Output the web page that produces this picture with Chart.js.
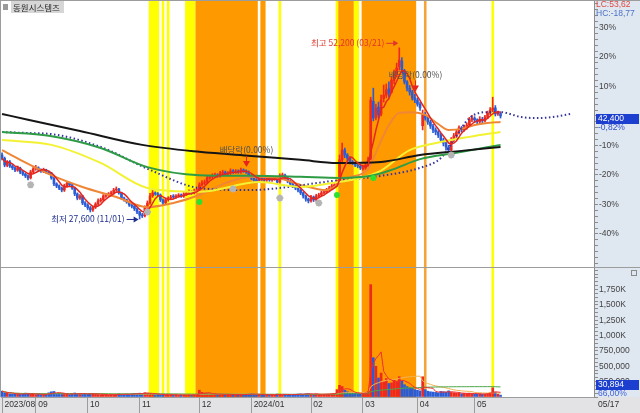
<!DOCTYPE html>
<html>
<head>
<meta charset="utf-8">
<script src="https://cdn.jsdelivr.net/npm/chart.js@4.4.1/dist/chart.umd.min.js"></script>
<style>
  html, body { margin: 0; padding: 0; background: #fff; }
  #wrap { position: relative; width: 640px; height: 413px; }
</style>
</head>
<body>
<div id="wrap"><canvas id="c" width="640" height="413"></canvas></div>
<script>
// daily candles, 2023/08 .. 2024/05/17 (index = trading day)
var opens = [
  36800, 36300, 35300, 35800, 35200, 34950, 34600, 34900, 34350, 34050,
  33800, 33500, 34350, 34800, 34950, 34650, 34450, 34650, 34350, 34200,
  33500, 32650, 32350, 32050, 31750, 32350, 32750, 32500, 32050, 31200,
  30600, 30900, 29900, 29600, 29200, 28900, 29300, 29750, 30200, 30350,
  30900, 31050, 31200, 31350, 31750, 31900, 31350, 30600, 30350, 30050,
  29600, 29450, 29050, 28600, 28150, 28050, 29200, 29900, 30900, 31350,
  31200, 31050, 30350, 29900, 30350, 30600, 30900, 30750, 30900, 31050,
  30900, 31200, 31350, 31500, 31350, 31600, 31750, 32500, 32750, 32900,
  33500, 33650, 33800, 33900, 33800, 34200, 34350, 34050, 34200, 34500,
  34350, 34500, 34350, 34650, 34500, 34350, 33800, 33500, 33200, 33050,
  33500, 33350, 33200, 33500, 33200, 33350, 33500, 32900, 33800, 33900,
  33500, 33050, 32650, 32350, 32050, 31750, 31350, 30900, 30450, 30200,
  30750, 30350, 30900, 31050, 31350, 31500, 31750, 32050, 32350, 32500,
  32900, 36100, 37500, 36800, 36350, 35800, 35650, 35350, 35200, 34800,
  34950, 35350, 36300, 44500, 42200, 43700, 42700, 44900, 45400, 46300,
  45800, 47500, 48500, 49500, 50300, 48900, 47300, 46400, 45850, 45000,
  44700, 44100, 41000, 42550, 42100, 41550, 40950, 40400, 40100, 39650,
  38950, 38500, 37950, 37500, 38950, 39550, 40100, 40700, 40400, 40800,
  41100, 41850, 42100, 41850, 41550, 41950, 41700, 42250, 42850, 43250,
  43550, 42700, 42750
];
var highs = [
  37100, 36500, 36000, 36000, 35400, 35100, 35200, 35050, 34550, 34200,
  33950, 34600, 35000, 35300, 35100, 34800, 34900, 34750, 34500, 34300,
  33650, 32800, 32500, 32200, 32600, 33000, 32900, 32650, 32150, 31350,
  31100, 31000, 30100, 29800, 29400, 29500, 29950, 30500, 30600, 31100,
  31300, 31400, 31600, 32000, 32200, 32000, 31450, 30750, 30450, 30200,
  29750, 29550, 29200, 28700, 28400, 29500, 30200, 31300, 31700, 31500,
  31400, 31200, 30500, 30600, 30800, 31000, 31100, 31100, 31250, 31200,
  31400, 31550, 31800, 31650, 31900, 32000, 32800, 33100, 33200, 33800,
  33900, 34100, 34200, 34100, 34450, 34600, 34500, 34400, 34800, 34700,
  34700, 34650, 34900, 34800, 34650, 34500, 33950, 33650, 33400, 33700,
  33650, 33500, 33700, 33650, 33550, 33700, 33600, 34100, 34200, 34050,
  33600, 33200, 32800, 32500, 32200, 31900, 31500, 31050, 30600, 31000,
  30900, 31150, 31300, 31600, 31750, 32000, 32300, 32600, 32750, 33200,
  36800, 38500, 37800, 37000, 36500, 36000, 35800, 35500, 35400, 35300,
  35700, 36500, 45100, 46400, 44100, 44400, 45400, 46850, 47000, 47300,
  48000, 49000, 50000, 52200, 50800, 49100, 47500, 46800, 46100, 45500,
  45000, 44400, 43250, 42900, 42400, 41800, 41200, 40700, 40300, 39900,
  39200, 38800, 38200, 39300, 39900, 40400, 41000, 40900, 41100, 41400,
  42200, 42500, 42300, 42000, 42300, 42200, 42500, 43100, 43600, 45100,
  43900, 43100, 43000
];
var lows = [
  36100, 35100, 35100, 35000, 34700, 34400, 34450, 34100, 33850, 33550,
  33200, 33350, 34150, 34600, 34400, 34300, 34250, 34150, 34000, 33300,
  32400, 32100, 31800, 31500, 31550, 32150, 32300, 31850, 30950, 30350,
  30400, 29650, 29350, 28950, 28600, 28700, 29100, 29550, 30000, 30150,
  30700, 30850, 31000, 31150, 31550, 31150, 30400, 30150, 29850, 29400,
  29200, 28800, 28350, 27600, 27800, 27900, 29000, 29700, 30700, 31000,
  30850, 30100, 29650, 29700, 30150, 30400, 30550, 30550, 30700, 30700,
  30700, 31000, 31150, 31150, 31200, 31400, 31600, 32300, 32550, 32700,
  33300, 33450, 33600, 33600, 33600, 34000, 33850, 33850, 34000, 34150,
  34150, 34150, 34150, 34300, 34150, 33550, 33250, 32950, 32800, 32850,
  33150, 33000, 33000, 33000, 33000, 33150, 32650, 32700, 33600, 33300,
  32800, 32400, 32100, 31800, 31500, 31100, 30600, 30150, 29900, 30000,
  30100, 30150, 30700, 30850, 31150, 31300, 31550, 31850, 32150, 32300,
  32700, 35800, 36400, 36000, 35500, 35400, 35100, 34950, 34700, 34600,
  34750, 35100, 36100, 41700, 41850, 42100, 42400, 44400, 45000, 45100,
  45700, 47000, 48000, 49000, 48600, 47000, 46000, 45400, 44700, 44300,
  43800, 43200, 40400, 41800, 41200, 40600, 40000, 39700, 39300, 38600,
  38100, 37500, 37100, 37300, 38700, 39300, 39800, 40100, 40200, 40500,
  40900, 41600, 41500, 41200, 41300, 41400, 41500, 42000, 42600, 43000,
  42400, 42500, 42100
];
var closes = [
  36350, 35350, 35800, 35200, 34950, 34650, 34950, 34350, 34050, 33800,
  33500, 34350, 34800, 34950, 34650, 34500, 34650, 34350, 34200, 33500,
  32650, 32350, 32050, 31750, 32350, 32750, 32500, 32050, 31200, 30600,
  30900, 29900, 29600, 29200, 28900, 29300, 29750, 30200, 30350, 30900,
  31050, 31200, 31350, 31750, 31900, 31350, 30600, 30350, 30050, 29600,
  29450, 29050, 28600, 28150, 28050, 29200, 29900, 30900, 31350, 31200,
  31050, 30350, 29900, 30350, 30600, 30750, 30750, 30900, 31050, 30900,
  31200, 31350, 31500, 31350, 31600, 31750, 32500, 32750, 32900, 33500,
  33650, 33800, 33900, 33800, 34200, 34350, 34050, 34200, 34500, 34350,
  34500, 34350, 34650, 34500, 34350, 33800, 33500, 33200, 33050, 33500,
  33350, 33200, 33500, 33200, 33350, 33500, 32900, 33800, 33900, 33500,
  33050, 32650, 32350, 32050, 31750, 31350, 30900, 30450, 30200, 30750,
  30350, 30900, 31050, 31350, 31500, 31750, 32050, 32350, 32500, 32900,
  36100, 37500, 36800, 36350, 35800, 35650, 35350, 35200, 34950, 34950,
  35350, 36100, 44700, 42100, 43550, 42550, 44700, 45400, 46150, 45700,
  47550, 48300, 49300, 50450, 49000, 47300, 46400, 45850, 45000, 44700,
  44100, 43550, 42550, 42100, 41550, 40950, 40400, 40100, 39650, 38950,
  38500, 37950, 37500, 38950, 39550, 40100, 40700, 40400, 40800, 41100,
  41850, 42100, 41850, 41550, 41950, 41700, 42250, 42850, 43250, 43550,
  42700, 42750, 42400
];
var volumes = [
  // 2023/08
  95000, 70000, 60000, 52000, 48000, 45000, 55000, 42000, 50000, 62000, 58000, 47000, 44000,
  // 09
  40000, 52000, 38000, 45000, 41000, 68000, 85000, 90000, 60000, 55000,
  48000, 50000, 45000, 42000, 58000, 65000, 52000, 48000, 55000, 50000,
  // 10
  47000, 60000, 52000, 45000, 40000, 38000, 42000, 36000, 35000, 40000,
  38000, 45000, 50000, 42000, 40000, 48000, 45000, 52000, 58000, 55000,
  // 11
  62000, 55000, 70000, 65000, 58000, 45000, 40000, 42000, 38000, 40000, 36000, 35000,
  38000, 33000, 35000, 30000, 32000, 34000, 30000, 36000, 33000, 35000, 38000,
  // 12
  110000, 75000, 60000, 55000, 48000, 45000, 50000, 42000, 46000, 40000,
  38000, 42000, 45000, 40000, 38000, 36000, 42000, 40000, 44000, 48000,
  // 2024/01
  52000, 45000, 40000, 38000, 36000, 35000, 40000, 38000, 42000, 36000, 48000, 44000,
  40000, 38000, 35000, 40000, 42000, 45000, 48000, 50000, 46000, 52000, 55000,
  // 02
  48000, 45000, 50000, 42000, 40000, 45000, 48000, 50000, 55000, 60000,
  120000, 190000, 170000, 110000, 85000, 75000, 65000, 60000, 55000, 50000,
  // 03
  60000, 75000, 90000, 1830000, 640000, 500000, 310000, 390000, 250000, 300000, 220000,
  230000, 280000, 250000, 330000, 260000, 200000, 170000, 150000, 140000, 120000,
  // 04
  110000, 100000, 330000, 120000, 95000, 85000, 80000, 75000, 70000, 90000, 85000,
  80000, 100000, 75000, 70000, 65000, 60000, 55000, 60000, 58000, 62000, 55000,
  // 05
  50000, 48000, 52000, 45000, 50000, 60000, 70000, 150000, 80000, 46809, 30894
];

// moving averages (day index -> price)
var blackIdx = [0, 10, 30, 54, 76, 96, 115, 129, 146, 161, 176, 192];
var blackVal = [42700, 41850, 40250, 38250, 37250, 36650, 36100, 35650, 35800, 36800, 37350, 37950];
var greenIdx = [0, 18, 38, 56, 76, 96, 115, 130, 142, 150, 161, 175, 192];
var greenVal = [40100, 39550, 37800, 35050, 33900, 33800, 33650, 33500, 33800, 34650, 36200, 37100, 38250];
var yellowIdx = [0, 19, 38, 56, 76, 99, 115, 127, 145, 157, 169, 180, 192];
var yellowVal = [38950, 38250, 35650, 32050, 31500, 32900, 32200, 32750, 34350, 37500, 38650, 39400, 40100];
var orangeIdx = [0, 7, 19, 31, 44, 56, 66, 76, 86, 96, 106, 115, 125, 133, 141, 145, 149, 153, 158, 163, 168, 172, 177, 182, 187, 192];
var orangeVal = [37500, 36100, 33900, 32200, 30750, 29300, 29900, 31050, 32750, 33650, 33500, 32500, 31750, 33500, 34800, 38000, 41100, 42850, 42950, 42550, 41250, 40400, 40550, 41100, 41400, 41550];
var dotIdx = [0, 10, 19, 38, 57, 76, 96, 107, 127, 146, 161, 169, 174, 180, 187, 192, 200, 206, 212, 219];
var dotVal = [40100, 39950, 39800, 37950, 34650, 32050, 31750, 32050, 33050, 33800, 34950, 36350, 38950, 42100, 42950, 42950, 42250, 42100, 42250, 42700];

// signal marks
var starIdx = [11, 56, 89, 107, 122, 173];
var starVal = [32500, 28600, 31900, 30600, 29900, 36800];
var crossIdx = [76, 129, 143];
var crossVal = [30050, 31050, 33500];

// highlighted periods (first day, last day, kind)
var bandStart = [57, 62, 64, 71, 75, 100, 107, 129, 130, 136, 139, 163, 189];
var bandEnd   = [60, 62, 64, 74, 98, 101, 107, 129, 135, 137, 159, 163, 189];
var bandKind  = ['Y', 'Y', 'Y', 'Y', 'O', 'O', 'Y', 'Y', 'O', 'Y', 'O', 'L', 'Y'];

// x axis months
var monthStart = [0, 13, 33, 53, 76, 96, 119, 139, 160, 182];
var monthLabel = ['2023/08', '09', '10', '11', '12', '2024/01', '02', '03', '04', '05'];
var lastDate = '05/17';

var pctTicks = [30, 20, 10, -10, -20, -30, -40];
var volTicks = [250000, 500000, 750000, 1000000, 1250000, 1500000, 1750000];

var lowIdx = 53, lowDate = '11/01';
var highIdx = 153, highDate = '03/21';
var divIdx = [94, 159];
var lcText = 'LC:53,62', hcText = 'HC:-18,77';

var UP = '#ee2a1e', DOWN = '#2b5cd4';
var bandColor = { Y: '#ffff00', O: '#ff9900', L: '#f5a43a' };
var axisFont = { family: 'Liberation Sans', size: 8.5 };
var last = closes.length - 1;
var basePrice = closes[last];
var fmt = function(n) { return Math.round(n).toLocaleString('en-US'); };

function pts(xs, ys) { return xs.map(function(x, k) { return { x: x, y: ys[k] }; }); }
function movAvg(arr, n) {
  return arr.map(function(v, i) {
    var s = Math.max(0, i - n + 1), t = 0;
    for (var k = s; k <= i; k++) t += arr[k];
    return { x: i, y: t / (i - s + 1) };
  });
}
var colors = closes.map(function(c, i) { return c >= opens[i] ? UP : DOWN; });

function maLine(data, color, extra) {
  return Object.assign({
    type: 'line', data: data, borderColor: color, borderWidth: 2, pointRadius: 0,
    cubicInterpolationMode: 'monotone', yAxisID: 'y', order: 5
  }, extra || {});
}

var priceTickValues = [];
for (var k = -50; k <= 38; k += 2) priceTickValues.push(basePrice * (1 + k / 100));
var volTickValues = [];
for (var t = 0; t <= 2100000; t += 62500) volTickValues.push(t);

function noPad(s) { s.paddingTop = 0; s.paddingBottom = 0; s.paddingLeft = 0; s.paddingRight = 0; }

function txt(ctx, s, px, py, color, align, font) {
  ctx.fillStyle = color;
  ctx.textAlign = align || 'left';
  ctx.textBaseline = 'middle';
  ctx.font = font || '8.5px "Noto Sans CJK KR"';
  ctx.fillText(s, px, py);
}
function arrow(ctx, x1, y1, x2, color) {
  ctx.strokeStyle = color; ctx.fillStyle = color; ctx.lineWidth = 1;
  ctx.beginPath(); ctx.moveTo(x1, y1 + 0.5); ctx.lineTo(x2 - 3, y1 + 0.5); ctx.stroke();
  ctx.beginPath(); ctx.moveTo(x2, y1 + 0.5); ctx.lineTo(x2 - 5, y1 - 2.5); ctx.lineTo(x2 - 5, y1 + 3.5); ctx.closePath(); ctx.fill();
}

var paint = {
  id: 'paint',
  beforeDraw: function(chart) {
    var ctx = chart.ctx, a = chart.chartArea;
    ctx.save();
    ctx.fillStyle = '#ffffff'; ctx.fillRect(0, 0, chart.width, chart.height);
    ctx.fillStyle = '#dfe7f1'; ctx.fillRect(a.right, 0, chart.width - a.right, a.bottom);
    ctx.fillStyle = '#e3e3e6'; ctx.fillRect(0, a.bottom, chart.width, chart.height - a.bottom);
    ctx.restore();
  },
  beforeDatasetsDraw: function(chart) {
    var ctx = chart.ctx, a = chart.chartArea, x = chart.scales.x;
    ctx.save();
    ctx.beginPath(); ctx.rect(a.left, a.top, a.width, a.height); ctx.clip();
    bandStart.forEach(function(s, i) {
      var x1 = x.getPixelForValue(s - 0.5), x2 = x.getPixelForValue(bandEnd[i] + 0.5);
      ctx.fillStyle = bandColor[bandKind[i]];
      ctx.fillRect(x1, a.top, x2 - x1, a.height);
    });
    ctx.restore();
  },
  afterDraw: function(chart) {
    var ctx = chart.ctx, a = chart.chartArea, x = chart.scales.x, y = chart.scales.y, v = chart.scales.yv;
    var W = chart.width;
    ctx.save();
    // frame and panel separator
    ctx.strokeStyle = '#9c9c9c'; ctx.lineWidth = 1;
    ctx.beginPath();
    ctx.moveTo(0, Math.round(v.top) - 0.5); ctx.lineTo(W, Math.round(v.top) - 0.5);
    ctx.moveTo(0.5, 0); ctx.lineTo(0.5, a.bottom);
    ctx.moveTo(0, 0.5); ctx.lineTo(W, 0.5);
    ctx.stroke();

    // title
    ctx.fillStyle = '#9a9a9a'; ctx.fillRect(3, 4, 5, 6);
    ctx.fillStyle = '#d6d6d6'; ctx.fillRect(11, 1, 53, 12);
    txt(ctx, '동원시스템즈', 13, 7.5, '#262626', 'left', '8.5px "Noto Sans CJK KR"');

    // right axis info
    var af = '8.5px "Liberation Sans"';
    txt(ctx, lcText, a.right + 2, 5, '#e2473e', 'left', af);
    txt(ctx, hcText, a.right + 2, 14, '#4b72c6', 'left', af);
    var py = y.getPixelForValue(basePrice);
    ctx.fillStyle = '#1d3fcf'; ctx.fillRect(a.right + 2, py - 2, 43, 10);
    txt(ctx, fmt(basePrice), a.right + 4, py + 3, '#ffffff', 'left', af);
    var chg = ((basePrice / closes[last - 1] - 1) * 100).toFixed(2).replace('.', ',');
    txt(ctx, chg + '%', a.right + 4, py + 12, '#2f4fc8', 'left', af);
    var vy = v.bottom - 12;
    ctx.fillStyle = '#1d3fcf'; ctx.fillRect(a.right + 2, vy - 5, 43, 10);
    txt(ctx, fmt(volumes[last]), a.right + 4, vy, '#ffffff', 'left', af);
    var vr = (volumes[last] / volumes[last - 1] * 100).toFixed(2).replace('.', ',');
    txt(ctx, vr + '%', a.right + 4, v.bottom - 3, '#4060d8', 'left', af);
    txt(ctx, lastDate, a.right + 4, a.bottom + 8, '#333333', 'left', af);
    ctx.strokeStyle = '#8a8a8a';
    ctx.strokeRect(W - 8.5, v.top + 2.5, 5, 5);

    ctx.beginPath(); ctx.rect(a.left, a.top, a.width, a.height); ctx.clip();
    // low / high labels
    var lx = x.getPixelForValue(lowIdx), ly = y.getPixelForValue(lows[lowIdx]);
    arrow(ctx, lx - 13, ly, lx - 1, '#1f2f90');
    txt(ctx, '최저 ' + fmt(lows[lowIdx]) + ' (' + lowDate + ')', lx - 15, ly, '#1f2f90', 'right');
    var hx = x.getPixelForValue(highIdx), hy = y.getPixelForValue(highs[highIdx]) - 5;
    arrow(ctx, hx - 13, hy, hx - 1, '#e0352b');
    txt(ctx, '최고 ' + fmt(highs[highIdx]) + ' (' + highDate + ')', hx - 15, hy, '#e0352b', 'right');
    // ex-dividend marks
    divIdx.forEach(function(d) {
      var dx = Math.round(x.getPixelForValue(d)) + 0.5, top = y.getPixelForValue(highs[d]);
      ctx.strokeStyle = '#e8231c'; ctx.fillStyle = '#e8231c'; ctx.lineWidth = 1;
      ctx.beginPath(); ctx.moveTo(dx, top - 14); ctx.lineTo(dx, top - 8); ctx.stroke();
      ctx.beginPath(); ctx.moveTo(dx - 3.5, top - 9); ctx.lineTo(dx + 3.5, top - 9); ctx.lineTo(dx, top - 3); ctx.closePath(); ctx.fill();
      txt(ctx, '배당락(0.00%)', dx, top - 20, '#505050', 'center');
    });
    ctx.restore();
  }
};

new Chart(document.getElementById('c'), {
  type: 'bar',
  data: {
    datasets: [
      maLine(pts(blackIdx, blackVal), '#151515'),
      maLine(pts(greenIdx, greenVal), '#2d9c45'),
      maLine(pts(yellowIdx, yellowVal), '#f2f232'),
      maLine(pts(dotIdx, dotVal), '#34349e', { borderDash: [1.5, 2.5] }),
      maLine(pts(orangeIdx, orangeVal), '#ef8636'),
      maLine(movAvg(closes, 5), '#e3261f', { borderWidth: 1.5, cubicInterpolationMode: 'default', tension: 0, order: 4 }),
      {
        type: 'bar', yAxisID: 'y', order: 9, grouped: false, barThickness: 1,
        data: closes.map(function(c, i) { return { x: i, y: [lows[i], highs[i]] }; }),
        backgroundColor: colors, borderWidth: 0
      },
      {
        type: 'bar', yAxisID: 'y', order: 8, grouped: false, barThickness: 2, minBarLength: 1,
        data: closes.map(function(c, i) { return { x: i, y: [opens[i], c] }; }),
        backgroundColor: colors, borderWidth: 0
      },
      {
        type: 'line', yAxisID: 'y', order: 1, showLine: false, data: pts(starIdx, starVal),
        pointStyle: 'star', pointRadius: 3.5, pointBorderWidth: 2, pointBorderColor: '#b4b4b4', pointBackgroundColor: '#b4b4b4'
      },
      {
        type: 'line', yAxisID: 'y', order: 1, showLine: false, data: pts(crossIdx, crossVal),
        pointStyle: 'circle', pointRadius: 3, pointBorderWidth: 0, pointBackgroundColor: '#2ee02e'
      },
      {
        type: 'bar', yAxisID: 'yv', order: 8, grouped: false, barThickness: 2,
        data: volumes.map(function(vv, i) { return { x: i, y: vv }; }),
        backgroundColor: colors, borderWidth: 0
      },
      maLine(movAvg(volumes, 60), '#4aa84a', { yAxisID: 'yv', borderWidth: 1, cubicInterpolationMode: 'default', tension: 0, order: 4 }),
      maLine(movAvg(volumes, 20), '#f0b454', { yAxisID: 'yv', borderWidth: 1, cubicInterpolationMode: 'default', tension: 0, order: 4 }),
      maLine(movAvg(volumes, 5), '#ee3030', { yAxisID: 'yv', borderWidth: 1, cubicInterpolationMode: 'default', tension: 0, order: 3 })
    ]
  },
  options: {
    responsive: false,
    animation: false,
    devicePixelRatio: 1,
    layout: { autoPadding: false, padding: { left: 1, top: 1, right: 0, bottom: 0 } },
    plugins: { legend: { display: false }, tooltip: { enabled: false } },
    scales: {
      x: {
        type: 'linear', min: -0.4, max: 228, offset: false,
        afterBuildTicks: function(s) { s.ticks = monthStart.map(function(m) { return { value: m }; }); },
        afterFit: function(s) { s.height = 16; noPad(s); },
        ticks: {
          autoSkip: false, maxRotation: 0, align: 'start', padding: -13, color: '#333', font: axisFont,
          callback: function(val) { return ' ' + monthLabel[monthStart.indexOf(val)]; }
        },
        grid: { drawOnChartArea: false, offset: false, tickLength: 16, color: '#9c9c9c' },
        border: { color: '#9c9c9c' }
      },
      y: {
        type: 'linear', position: 'right', stack: 'panes', stackWeight: 267,
        min: 20550, max: 58930,
        afterBuildTicks: function(s) { s.ticks = priceTickValues.map(function(p) { return { value: p }; }); },
        afterFit: function(s) { s.width = 46; noPad(s); },
        ticks: {
          autoSkip: false, padding: 1, color: '#444', font: axisFont,
          callback: function(val) {
            var p = Math.round((val / basePrice - 1) * 100);
            return pctTicks.indexOf(p) >= 0 ? p + '%' : '';
          }
        },
        grid: { drawOnChartArea: false, tickLength: 4, color: '#8c8c8c' },
        border: { color: '#8c8c8c' }
      },
      yv: {
        type: 'linear', position: 'right', stack: 'panes', stackWeight: 129,
        min: 0, max: 2100000,
        afterBuildTicks: function(s) { s.ticks = volTickValues.map(function(q) { return { value: q }; }); },
        afterFit: function(s) { s.width = 46; noPad(s); },
        ticks: {
          autoSkip: false, padding: 1, color: '#444', font: axisFont,
          callback: function(val) {
            if (volTicks.indexOf(val) < 0) return '';
            return val >= 1000000 ? fmt(val / 1000) + 'K' : fmt(val);
          }
        },
        grid: { drawOnChartArea: false, tickLength: 4, color: '#8c8c8c' },
        border: { color: '#8c8c8c' }
      }
    }
  },
  plugins: [paint]
});
</script>
</body>
</html>
